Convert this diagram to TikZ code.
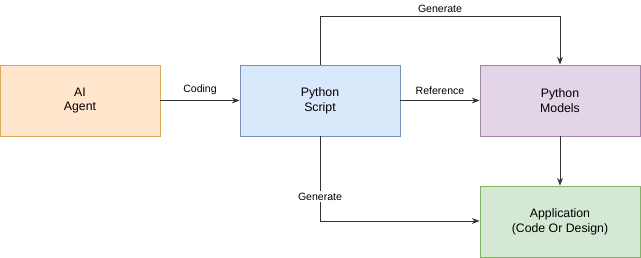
\documentclass[tikz,border=0pt]{standalone}
\usepackage{fontspec}
\setmainfont{Liberation Sans}
\usetikzlibrary{arrows.meta,positioning}

\begin{document}
\begin{tikzpicture}[
  x=0.03cm, y=-0.03cm,
  font=\fontsize{10.5}{12.5}\selectfont,
  >=Stealth,
  block/.style={draw, line width=0.6pt, align=center,
    minimum width=4.8cm, minimum height=2.13cm},
  flow/.style={line width=0.8pt, ->, draw=black!80},
  el/.style={font=\fontsize{9}{10}\selectfont, inner sep=1.5pt}
]
  \useasboundingbox (0,0) rectangle (641,258);

  % boxes
  \node[block, fill={rgb,255:red,255;green,230;blue,204}, draw={rgb,255:red,215;green,170;blue,90}]
    (agent) at (80,100.5) {AI\\Agent};
  \node[block, fill={rgb,255:red,218;green,232;blue,252}, draw={rgb,255:red,120;green,145;blue,180}]
    (script) at (320,100.5) {Python\\Script};
  \node[block, fill={rgb,255:red,225;green,213;blue,231}, draw={rgb,255:red,160;green,135;blue,170}]
    (models) at (560,100.5) {Python\\Models};
  \node[block, fill={rgb,255:red,213;green,232;blue,212}, draw={rgb,255:red,130;green,179;blue,102}]
    (app) at (560,221.5) {Application\\(Code Or Design)};

  % straight arrows
  \draw[flow] (agent) -- node[el, above=3pt] {Coding} (script);
  \draw[flow] (script) -- node[el, above=3pt] {Reference} (models);
  \draw[flow] (models) -- (app);

  % bends
  \coordinate (top) at (320,16);
  \coordinate (low) at (320,221);
  \draw[flow] (script.north) -- (top) -| node[el, pos=0.25, above=1pt] {Generate} (models.north);
  \draw[flow] (script.south) -- node[el, pos=0.71, fill=white] {Generate} (low) -- (app.west |- low);
\end{tikzpicture}
\end{document}
